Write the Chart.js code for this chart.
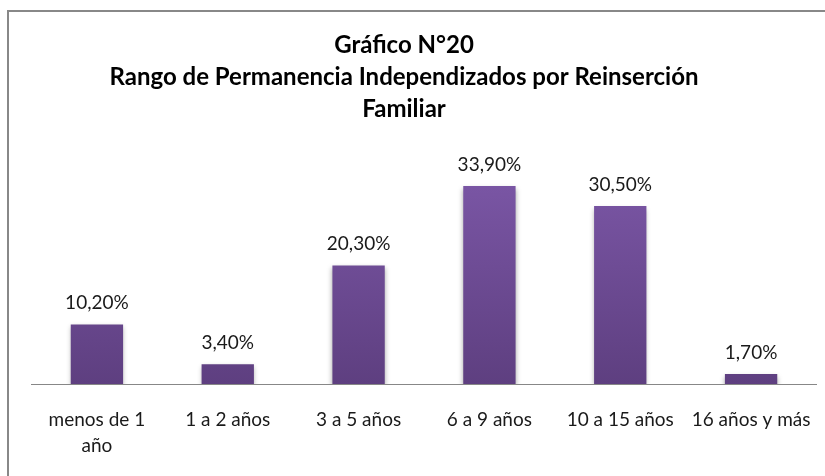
<!DOCTYPE html>
<html>
<head>
<meta charset="utf-8">
<script src="https://cdn.jsdelivr.net/npm/chart.js@4.4.1/dist/chart.umd.min.js"></script>
<style>
  html, body { margin: 0; padding: 0; background: #ffffff; }
  #wrap { position: relative; width: 825px; height: 476px; }
  canvas { display: block; }
</style>
</head>
<body>
<div id="wrap"><canvas id="c" width="825" height="476"></canvas></div>
<script>
const titleLines = ['Gráfico N°20', 'Rango de Permanencia Independizados por Reinserción', 'Familiar'];
const categories = [['menos de 1', 'año'], '1 a 2 años', '3 a 5 años', '6 a 9 años', '10 a 15 años', '16 años y más'];
const values = [10.2, 3.4, 20.3, 33.9, 30.5, 1.7];
const valueLabels = ['10,20%', '3,40%', '20,30%', '33,90%', '30,50%', '1,70%'];

const FONT = 'Lato, "Open Sans", sans-serif';

const framePlugin = {
  id: 'frame',
  beforeDraw(chart) {
    const ctx = chart.ctx;
    ctx.save();
    ctx.fillStyle = '#ffffff';
    ctx.fillRect(0, 0, chart.width, chart.height);
    ctx.strokeStyle = '#888888';
    ctx.lineWidth = 2;
    ctx.beginPath();
    ctx.moveTo(8, chart.height);
    ctx.lineTo(8, 11);
    ctx.lineTo(chart.width, 11);
    ctx.stroke();
    ctx.restore();
  },
  afterLayout(chart) {
    if (chart.titleBlock) {
      chart.titleBlock.left = 0;
      chart.titleBlock.right = 808;
    }
  }
};

const shadowPlugin = {
  id: 'barShadow',
  beforeDatasetsDraw(chart) {
    const ctx = chart.ctx;
    ctx.save();
    ctx.shadowColor = 'rgba(0,0,0,0.35)';
    ctx.shadowBlur = 5;
    ctx.shadowOffsetY = 3;
  },
  afterDatasetsDraw(chart) {
    chart.ctx.restore();
    const ctx = chart.ctx;
    const meta = chart.getDatasetMeta(0);
    ctx.save();
    ctx.fillStyle = '#1a1a1a';
    ctx.font = '19px ' + FONT;
    ctx.textAlign = 'center';
    ctx.textBaseline = 'middle';
    meta.data.forEach((bar, i) => {
      ctx.fillText(valueLabels[i], bar.x, bar.y - 21.5);
    });
    ctx.restore();
  }
};

function barGradient(context) {
  const chart = context.chart;
  const area = chart.chartArea;
  if (!area) return '#6f4f98';
  const el = context.element;
  const top = el && el.y !== undefined ? el.y : area.top;
  const bottom = el && el.base !== undefined ? el.base : area.bottom;
  if (!isFinite(top) || !isFinite(bottom) || top === bottom) return '#6f4f98';
  const g = chart.ctx.createLinearGradient(0, top, 0, bottom);
  g.addColorStop(0, '#7e59aa');
  g.addColorStop(1, '#5e3f80');
  return g;
}

new Chart(document.getElementById('c'), {
  type: 'bar',
  data: {
    labels: categories,
    datasets: [{
      data: values,
      backgroundColor: barGradient,
      borderWidth: 0,
      categoryPercentage: 1.0,
      barPercentage: 0.4
    }]
  },
  options: {
    responsive: false,
    animation: false,
    layout: { padding: { left: 31.5, right: 8.5, top: 0, bottom: 0 } },
    plugins: {
      legend: { display: false },
      tooltip: { enabled: false },
      title: {
        display: true,
        text: titleLines,
        color: '#000000',
        font: { family: FONT, size: 24, weight: 'bold', lineHeight: 32 / 24 },
        padding: { top: 29, bottom: 25.4 }
      }
    },
    scales: {
      x: {
        grid: { display: false, drawTicks: false },
        border: { display: true, color: '#878787', width: 1 },
        ticks: {
          color: '#1a1a1a',
          font: { family: FONT, size: 19, lineHeight: 26 / 19 },
          padding: 23,
          maxRotation: 0,
          autoSkip: false
        },
        afterFit(scale) {
          scale.height = 92;
          scale.paddingLeft = 0;
          scale.paddingRight = 0;
        }
      },
      y: {
        display: false,
        min: 0,
        max: 40
      }
    }
  },
  plugins: [framePlugin, shadowPlugin]
});
</script>
</body>
</html>
